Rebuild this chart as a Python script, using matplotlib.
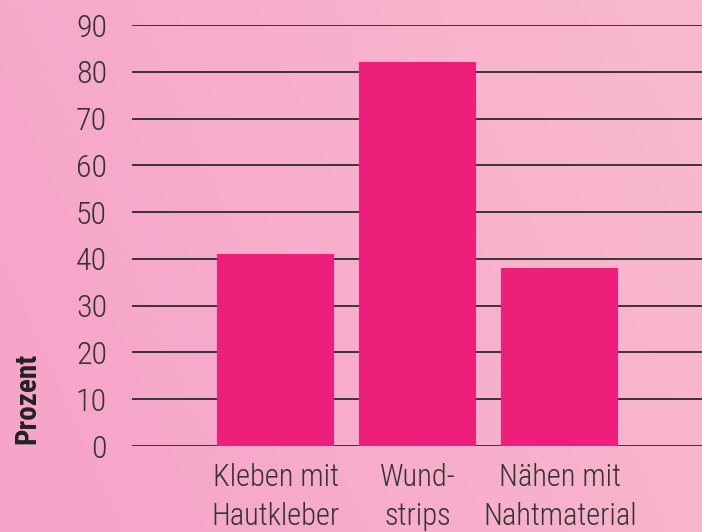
import numpy as np
import matplotlib.pyplot as plt
from matplotlib.colors import LinearSegmentedColormap

# Daten
kategorien = ["Kleben mit\nHautkleber", "Wund-\nstrips", "Nähen mit\nNahtmaterial"]
prozent = [41, 82, 38]
y_ticks = [0, 10, 20, 30, 40, 50, 60, 70, 80, 90]

plt.rcParams['font.family'] = ['Roboto Condensed', 'DejaVu Sans']
textfarbe = "#333333"

fig = plt.figure(figsize=(7.02, 5.32), dpi=100)

# Hintergrund mit Verlauf
bg = fig.add_axes([0, 0, 1, 1], zorder=0)
cmap = LinearSegmentedColormap.from_list("bg", ["#F6A3C8", "#F9BACF"])
xx, yy = np.meshgrid(np.linspace(0, 1, 200), np.linspace(0, 1, 200))
bg.imshow(0.75 * xx + 0.25 * yy, cmap=cmap, aspect="auto", extent=[0, 1, 0, 1], origin="lower")
bg.axis("off")

ax = fig.add_axes([132 / 702, 1 - 446 / 532, 570 / 702, 421 / 532], zorder=1)
ax.patch.set_alpha(0)

x = np.arange(len(kategorien))
ax.bar(x, prozent, width=0.824, color="#EE1F7A", zorder=2)

for t in y_ticks:
    ax.axhline(t, color="#2b2b2b", lw=1.3, zorder=1)

ax.set_xlim(-1.01, 3.0)
ax.set_ylim(0, 90)
ax.set_yticks(y_ticks)
ax.set_xticks(x)
ax.set_xticklabels(kategorien, fontsize=22, fontweight=300, color=textfarbe, linespacing=1.45)
for lbl in ax.get_yticklabels():
    lbl.set_fontweight(300)
ax.tick_params(axis="y", length=0, pad=18, labelsize=23, labelcolor=textfarbe)
ax.tick_params(axis="x", length=0, pad=12)
for s in ax.spines.values():
    s.set_visible(False)

fig.text(27 / 702, 1 - 398 / 532, "Prozent", rotation=90, fontsize=21, fontweight="bold",
         color="#222222", ha="center", va="center")

fig.savefig("out.png", dpi=100)
